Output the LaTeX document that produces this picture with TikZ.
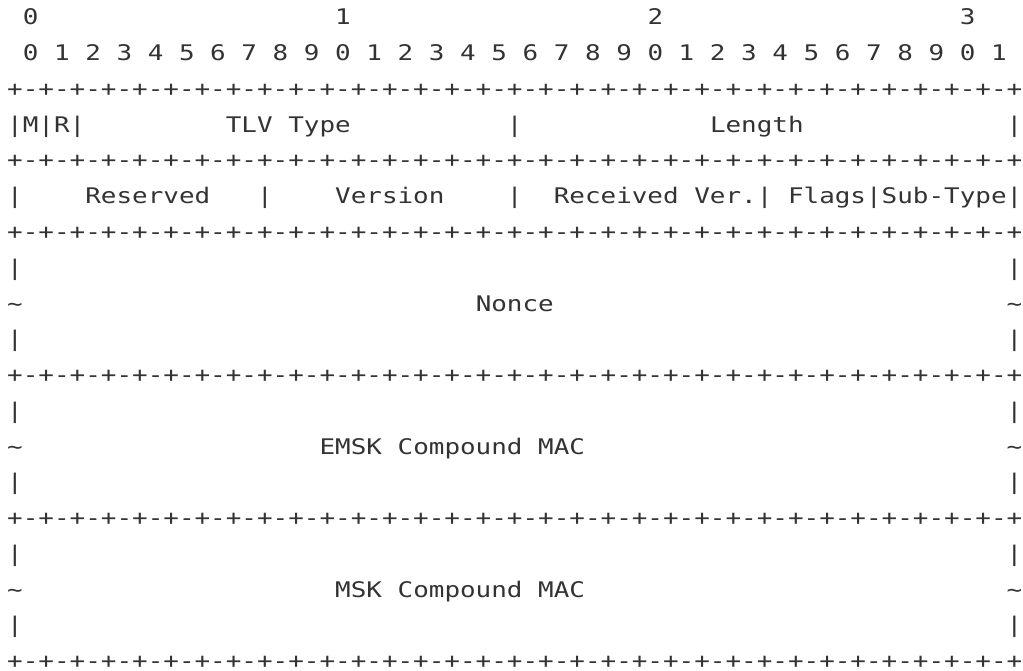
\documentclass[tikz,border=0pt]{standalone}
\usepackage{fontspec}
\newfontfamily\pktfont{DejaVu Sans Mono}
\definecolor{ink}{HTML}{333333}
\frenchspacing
\tikzset{
  pktrow/.style={anchor=base west, inner sep=0pt, text=ink, xscale=1.2065,
    text depth=0pt, font=\pktfont\fontsize{21.5pt}{21.5pt}\selectfont}
}
% the rows of the layout, spaces kept as typed
\begingroup
\obeyspaces%
\gdef\tensrow{\relax 0                   1                   2                   3}%
\gdef\bitsrow{\relax 0 1 2 3 4 5 6 7 8 9 0 1 2 3 4 5 6 7 8 9 0 1 2 3 4 5 6 7 8 9 0 1}%
\gdef\seprow{\relax+-+-+-+-+-+-+-+-+-+-+-+-+-+-+-+-+-+-+-+-+-+-+-+-+-+-+-+-+-+-+-+-+}%
\gdef\typerow{\relax|M|R|         TLV Type          |            Length             |}%
\gdef\verrow{\relax|    Reserved   |    Version    |  Received Ver.| Flags|Sub-Type|}%
\gdef\emptyrow{\relax|                                                               |}%
\gdef\noncerow{\relax\textasciitilde                             Nonce                             \textasciitilde}%
\gdef\emskrow{\relax\textasciitilde                   EMSK Compound MAC                           \textasciitilde}%
\gdef\mskrow{\relax\textasciitilde                    MSK Compound MAC                           \textasciitilde}%
\endgroup
\begin{document}
\begin{tikzpicture}[x=1pt,y=-1pt]
\useasboundingbox (0,0) rectangle (1023,671);
\node [pktrow] (tens) at (7,25) {\tensrow};
\node [pktrow] (bits) at (7,60.75) {\bitsrow};
\node [pktrow] (sep1) at (7,96.5) {\seprow};
\node [pktrow] (tlv) at (7,132.25) {\typerow};
\node [pktrow] (sep2) at (7,168) {\seprow};
\node [pktrow] (ver) at (7,203.75) {\verrow};
\node [pktrow] (sep3) at (7,239.5) {\seprow};
% nonce
\node [pktrow] (nonceA) at (7,275.25) {\emptyrow};
\node [pktrow] (nonce) at (7,311) {\noncerow};
\node [pktrow] (nonceB) at (7,346.75) {\emptyrow};
\node [pktrow] (sep4) at (7,382.5) {\seprow};
% emsk compound mac
\node [pktrow] (emskA) at (7,418.25) {\emptyrow};
\node [pktrow] (emsk) at (7,454) {\emskrow};
\node [pktrow] (emskB) at (7,489.75) {\emptyrow};
\node [pktrow] (sep5) at (7,525.5) {\seprow};
% msk compound mac
\node [pktrow] (mskA) at (7,561.25) {\emptyrow};
\node [pktrow] (msk) at (7,597) {\mskrow};
\node [pktrow] (mskB) at (7,632.75) {\emptyrow};
\node [pktrow] (sep6) at (7,668.5) {\seprow};
\end{tikzpicture}
\end{document}
